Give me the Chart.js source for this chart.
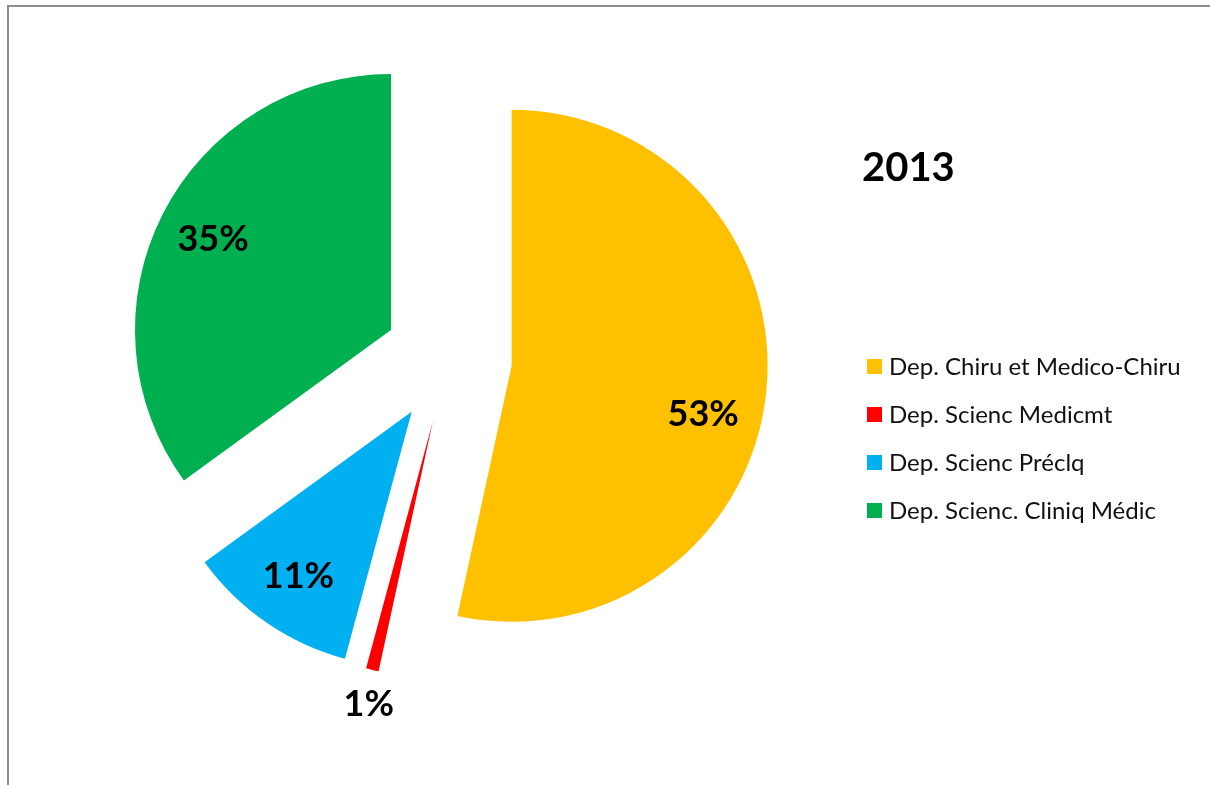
<!DOCTYPE html>
<html>
<head>
<meta charset="utf-8">
<script src="https://cdn.jsdelivr.net/npm/chart.js@4/dist/chart.umd.min.js"></script>
<style>
  html, body { margin: 0; padding: 0; background: #fff; }
  #wrap { width: 1210px; height: 785px; }
</style>
</head>
<body>
<div id="wrap"><canvas id="myChart" width="1210" height="785"></canvas></div>
<script>
// Datos
const labels = ['Dep. Chiru et Medico-Chiru', 'Dep. Scienc Medicmt', 'Dep. Scienc Préclq', 'Dep. Scienc. Cliniq Médic'];
const values = [53.4, 0.8, 10.8, 35.0];
const colors = ['#FFC000', '#FF0000', '#00B0F0', '#00B050'];
const chartTitle = '2013';

const FONT = "Lato, 'Open Sans', sans-serif";
const EXPLODE = 64; // separación de cada porción (px)
// ajuste fino de las etiquetas (como en el original, movidas a mano)
const labelNudge = [[-7, 27], [4, 3], [0, 0], [0, 0]];

// marco gris (arriba e izquierda)
const framePlugin = {
    id: 'frame',
    beforeDraw(chart) {
        const c = chart.ctx;
        c.save();
        c.fillStyle = '#ffffff';
        c.fillRect(0, 0, chart.width, chart.height);
        c.strokeStyle = '#8c8c8c';
        c.lineWidth = 2;
        c.beginPath();
        c.moveTo(8, chart.height + 5);
        c.lineTo(8, 6);
        c.lineTo(chart.width + 5, 6);
        c.stroke();
        c.restore();
    }
};

// desplaza cada porción hacia fuera (pastel explotado)
const explodePlugin = {
    id: 'explode',
    beforeDatasetsDraw(chart) {
        chart.getDatasetMeta(0).data.forEach(arc => {
            if (arc._exploded) return;
            const draw = arc.draw;
            arc.draw = function (ctx, area) {
                const mid = (this.startAngle + this.endAngle) / 2;
                ctx.save();
                ctx.translate(Math.cos(mid) * EXPLODE, Math.sin(mid) * EXPLODE);
                draw.call(this, ctx, area);
                ctx.restore();
            };
            arc._exploded = true;
        });
    }
};

// etiquetas de porcentaje
const labelPlugin = {
    id: 'pctLabels',
    afterDatasetsDraw(chart) {
        const c = chart.ctx;
        const meta = chart.getDatasetMeta(0);
        const total = values.reduce((a, b) => a + b, 0);
        c.save();
        c.font = "bold 36px " + FONT;
        c.fillStyle = '#000';
        c.textAlign = 'center';
        c.textBaseline = 'middle';
        meta.data.forEach((arc, i) => {
            const p = arc.getProps(['x', 'y', 'startAngle', 'endAngle', 'outerRadius'], true);
            const mid = (p.startAngle + p.endAngle) / 2;
            const share = values[i] / total;
            const r = share < 0.05 ? p.outerRadius + 32 : p.outerRadius * 0.78;
            const x = p.x + Math.cos(mid) * (EXPLODE + r) + labelNudge[i][0];
            const y = p.y + Math.sin(mid) * (EXPLODE + r) + labelNudge[i][1];
            c.fillText(Math.round(share * 100) + '%', x, y);
        });
        c.restore();
    }
};

// titulo y leyenda a la derecha
const sidePlugin = {
    id: 'side',
    afterDraw(chart) {
        const c = chart.ctx;
        c.save();
        c.fillStyle = '#000';
        c.font = "bold 40px " + FONT;
        c.textAlign = 'left';
        c.textBaseline = 'middle';
        c.fillText(chartTitle, 862, 168);

        c.font = "24px " + FONT;
        labels.forEach((lab, i) => {
            const y = 366 + i * 48;
            c.fillStyle = colors[i];
            c.fillRect(867, y - 7, 15, 15);
            c.fillStyle = '#111';
            c.fillText(lab, 889, y + 1);
        });
        c.restore();
    }
};

new Chart(document.getElementById('myChart').getContext('2d'), {
    type: 'pie',
    data: {
        labels: labels,
        datasets: [{
            data: values,
            backgroundColor: colors,
            borderWidth: 0,
            hoverOffset: 0,
            offset: 0,
            radius: 256
        }]
    },
    options: {
        responsive: false,
        animation: false,
        layout: {
            padding: { left: 160, right: 474, top: 71, bottom: 138 }
        },
        plugins: {
            legend: { display: false },
            tooltip: { enabled: false },
            title: { display: false }
        }
    },
    plugins: [framePlugin, explodePlugin, labelPlugin, sidePlugin]
});
</script>
</body>
</html>
